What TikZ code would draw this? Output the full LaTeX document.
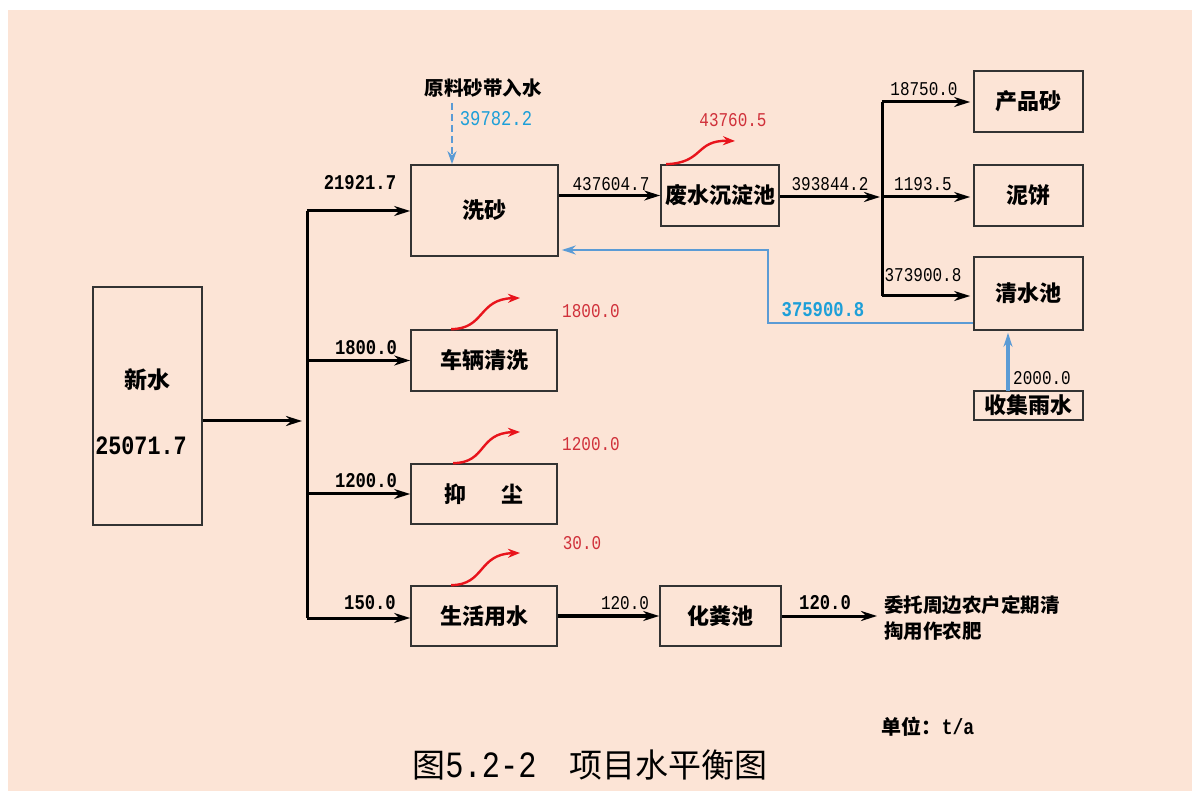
\documentclass[tikz,border=0pt]{standalone}
\usepackage{fontspec}
\usetikzlibrary{arrows.meta,calc}
\newfontfamily\cjk{Noto Sans CJK SC}
\newfontfamily\num{Liberation Mono}[FakeStretch=0.82]
\definecolor{peach}{HTML}{FCE4D6}
\definecolor{boxline}{HTML}{333333}
\definecolor{flowblue}{HTML}{5B9BD5}
\definecolor{labblue}{HTML}{1E9FD8}
\definecolor{labred}{HTML}{D0303A}
\definecolor{arrred}{HTML}{E8141C}
\begin{document}
\begin{tikzpicture}[x=1pt,y=-1pt,
  procbox/.style={draw=boxline,line width=1.7pt,inner sep=0pt,font=\cjk\bfseries\fontsize{22}{24}\selectfont},
  flow/.style={line width=3pt,-{Stealth[length=16pt,width=10pt]}},
  plainline/.style={line width=3pt},
  lossarr/.style={draw=arrred,line width=2.4pt,-{Stealth[length=12pt,width=9pt]}},
  bluearr/.style={draw=flowblue,line width=2.4pt,-{Stealth[length=14pt,width=9pt]}},
  numn/.style={inner sep=0pt,font=\num\fontsize{19.5}{22}\selectfont},
  numb/.style={inner sep=0pt,font=\num\bfseries\fontsize{21}{24}\selectfont},
  numred/.style={numn,text=labred},
  numblue/.style={numb,text=labblue},
  cjktext/.style={inner sep=0pt,font=\cjk\bfseries\fontsize{19.5}{24}\selectfont}
]
\useasboundingbox (0,0) rectangle (1192,791);
\fill[white] (0,0) rectangle (1192,791);
\fill[peach] (8,10) rectangle (1192,791);

% boxes
\node[procbox,minimum width=109pt,minimum height=238pt] (xinshui) at (147.5,406) {};
\node[inner sep=0pt,font=\cjk\bfseries\fontsize{23}{24}\selectfont] (xinshuit) at (147,380) {新水};
\node[inner sep=0pt,font=\num\bfseries\fontsize{26.5}{28}\selectfont] (xinshuin) at (141,446) {25071.7};
\node[procbox,minimum width=147pt,minimum height=91pt] (xisha) at (484.5,210.5) {洗砂};
\node[procbox,minimum width=146pt,minimum height=61pt] (cheliang) at (484,360.5) {车辆清洗};
\node[procbox,minimum width=146pt,minimum height=60pt] (yichen) at (484,494) {抑\hspace{1.6em}尘};
\node[procbox,minimum width=146pt,minimum height=60pt] (shenghuo) at (484,616) {生活用水};
\node[procbox,minimum width=121pt,minimum height=60pt] (huafen) at (720.5,616) {化粪池};
\node[procbox,minimum width=118pt,minimum height=61pt] (feishui) at (720,195.5) {废水沉淀池};
\node[procbox,minimum width=109pt,minimum height=61pt] (chanpin) at (1028.5,101.5) {产品砂};
\node[procbox,minimum width=109pt,minimum height=61pt] (nibing) at (1028.5,195.5) {泥饼};
\node[procbox,minimum width=109pt,minimum height=73pt] (qingshui) at (1028.5,293.5) {清水池};
\node[procbox,minimum width=109pt,minimum height=29pt] (yushui) at (1028.5,405.5) {收集雨水};

% fresh water bus
\coordinate (j0) at (307,421);
\coordinate (bt) at (307,211);
\coordinate (bb) at (307,618);
\draw[flow,shorten >=5pt] (xinshui.east |- j0) -- (j0);
\draw[plainline] (bt) -- (bb);
\draw[flow] (bt) -- (xisha.west |- bt);
\draw[flow] (bt |- cheliang.west) -- (cheliang.west);
\draw[flow] (bt |- yichen.west) -- (yichen.west);
\draw[flow] (bb) -- (shenghuo.west |- bb);
\node[numb] (l1) at (360,183) {21921.7};
\node[numb] (l2) at (366,348) {1800.0};
\node[numb] (l3) at (366,481) {1200.0};
\node[numb] (l4) at (370,603) {150.0};

% raw sand water
\node[cjktext] (raw) at (483,88) {原料砂带入水};
\coordinate (rawst) at (452,103);
\draw[draw=flowblue,line width=2.6pt,dash pattern=on 7pt off 4pt,-{Stealth[length=13pt,width=9pt]}] (rawst) -- (rawst |- xisha.north);
\node[numblue,font=\num\fontsize{21}{24}\selectfont] (l5) at (496,119) {39782.2};

% settling
\draw[flow] (xisha.east |- feishui.west) -- (feishui.west);
\node[numn] (l6) at (611,184) {437604.7};
\draw[lossarr] ($(feishui.north west)+(6,0)$) .. controls (704,163) and (695,140) .. (735,141);
\node[numred] (l7) at (733,120) {43760.5};
\coordinate (j1) at (882,197);
\coordinate (jt) at (882,102);
\coordinate (jb) at (882,296);
\draw[flow,shorten >=2pt] (feishui.east |- j1) -- (j1);
\node[numn] (l8) at (830,184) {393844.2};
\draw[plainline] (jt) -- (jb);
\draw[flow,shorten >=3pt] (jt) -- (chanpin.west |- jt);
\draw[flow,shorten >=3pt] (j1) -- (nibing.west |- j1);
\draw[flow,shorten >=3pt] (jb) -- (qingshui.west |- jb);
\node[numn] (l9) at (924,89) {18750.0};
\node[numn] (l10) at (923,184) {1193.5};
\node[numn] (l11) at (923,275) {373900.8};

% recycle
\coordinate (rc1) at (768,323);
\coordinate (rc2) at (768,250);
\draw[bluearr,line width=2.2pt,shorten >=3pt] (qingshui.west |- rc1) -- (rc1) -- (rc2) -- (xisha.east |- rc2);
\node[numblue] (l12) at (823,310) {375900.8};
\coordinate (rain) at (1008,391);
\draw[bluearr,line width=3.2pt,shorten >=2pt] (rain) -- (rain |- qingshui.south);
\node[numn] (l13) at (1042,378) {2000.0};

% losses
\draw[lossarr] ($(cheliang.north west)+(41,0)$) .. controls (485,329) and (478,299) .. (520,298);
\node[numred] (l14) at (591,311) {1800.0};
\draw[lossarr] ($(yichen.north west)+(43,0)$) .. controls (487,463) and (478,433) .. (520,432);
\node[numred] (l15) at (591,444) {1200.0};
\draw[lossarr] ($(shenghuo.north west)+(41,0)$) .. controls (485,585) and (478,554) .. (520,553);
\node[numred] (l16) at (582,543) {30.0};

% domestic
\draw[flow,line width=3.6pt] (shenghuo.east |- huafen.west) -- (huafen.west);
\node[numn] (l17) at (625,603) {120.0};
\coordinate (out) at (877,616);
\draw[flow] (huafen.east |- out) -- (out);
\node[numb] (l18) at (825,603) {120.0};
\node[cjktext,anchor=west,align=left] (dest) at (884,618) {委托周边农户定期清\\[2pt]掏用作农肥};

\node[inner sep=0pt,font=\cjk\bfseries\fontsize{20}{22}\selectfont] (unit) at (928,727) {单位：{\num\bfseries\fontsize{22}{22}\selectfont t/a}};
\node[inner sep=0pt,font=\cjk\fontsize{33}{36}\selectfont] (cap) at (590,765) {图{\num\fontsize{37}{36}\selectfont 5.2-2}\hspace{1em}项目水平衡图};
\end{tikzpicture}
\end{document}
